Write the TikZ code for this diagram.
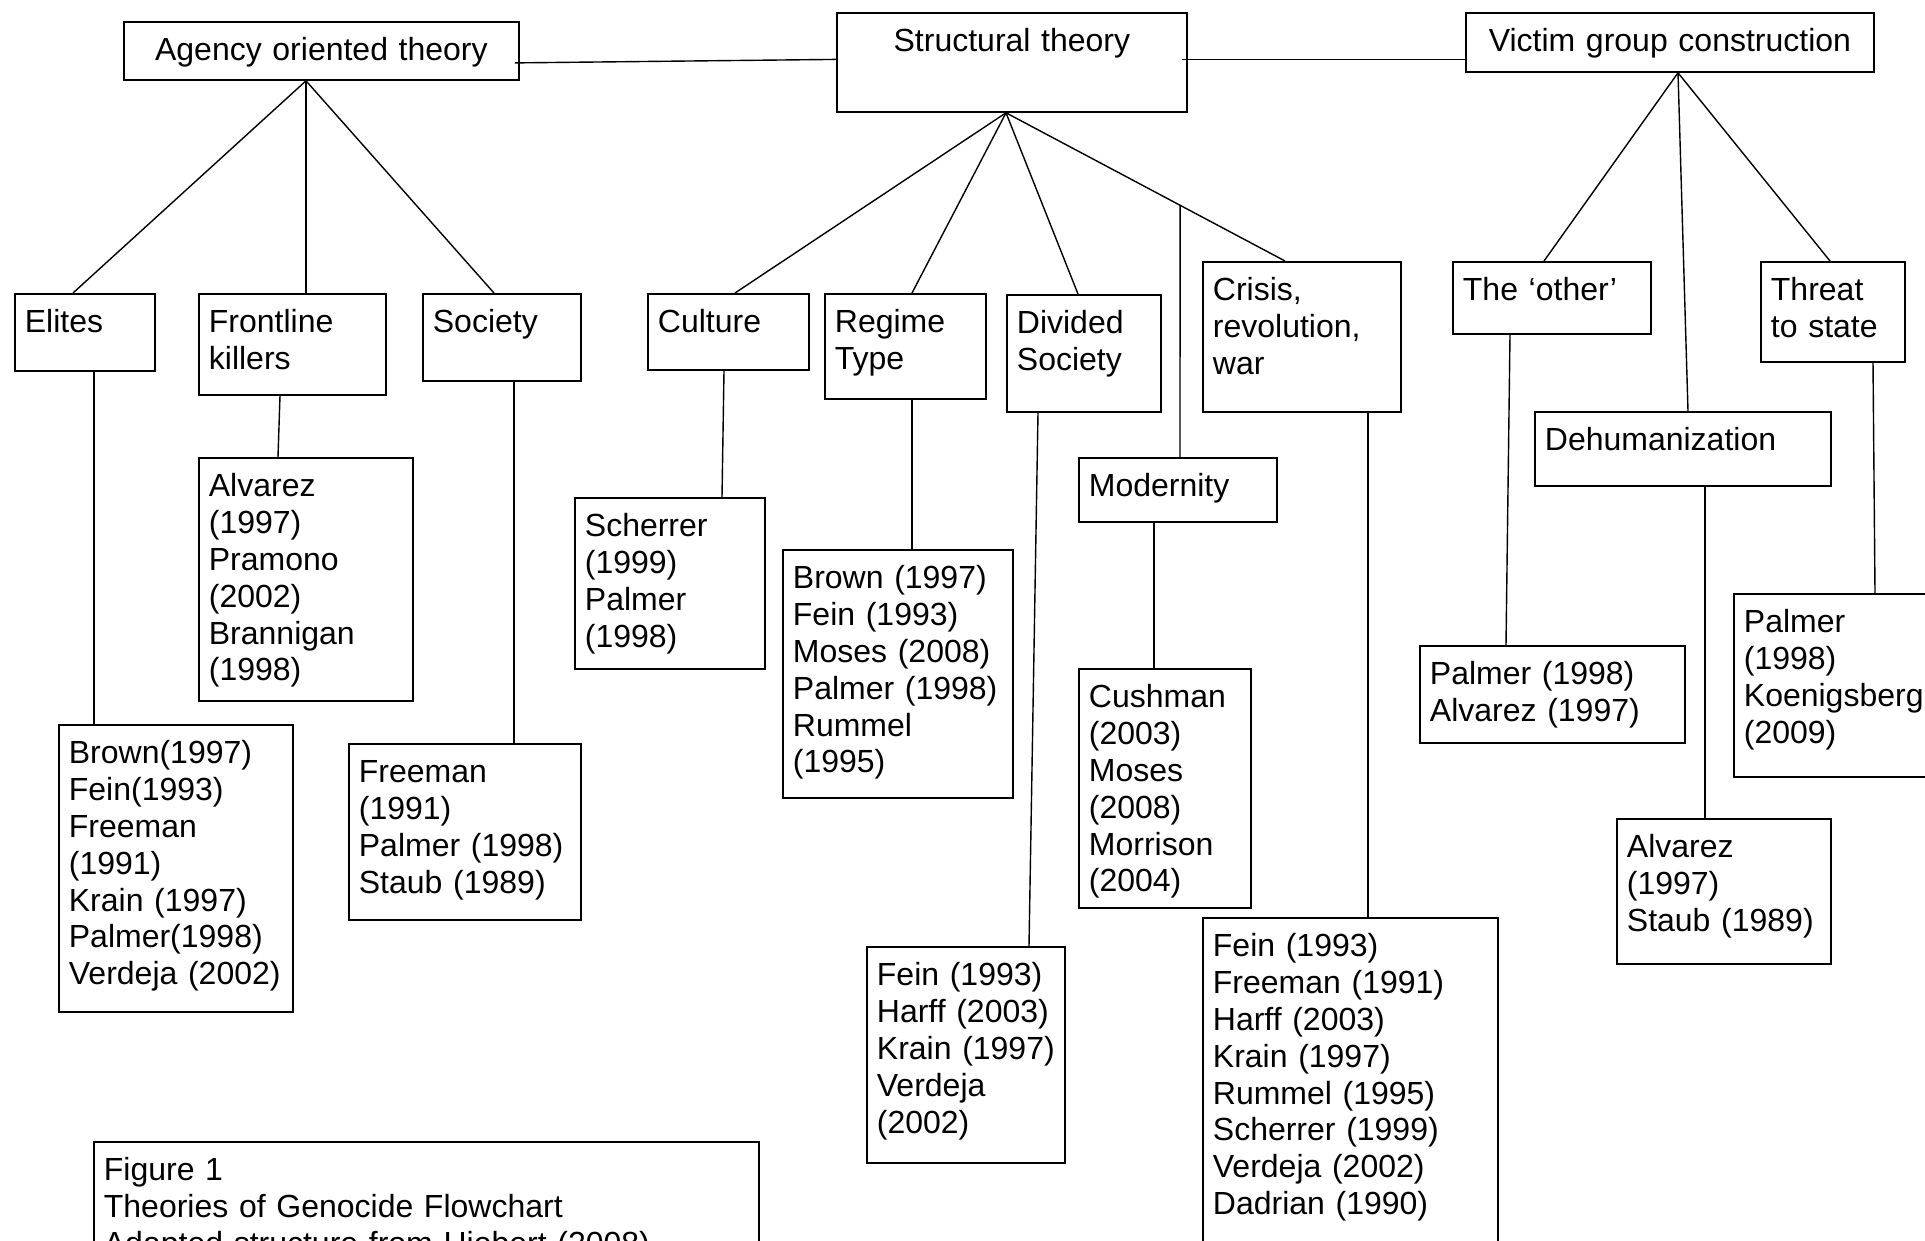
\documentclass[tikz,border=0pt]{standalone}
\usepackage{fontspec}
\setmainfont{Liberation Sans}
\newcommand\fs{\fontsize{32pt}{36.8pt}\selectfont}
\tikzset{
  box/.style={draw, line width=1.8pt, inner xsep=10pt, inner ysep=0pt, text height=39pt,
              align=left, anchor=north west, font=\fs},
  cbox/.style={box, align=center},
  conn/.style={line width=1.4pt},
}
\begin{document}
\begin{tikzpicture}[x=1pt,y=-1pt]
\fill[white] (0,0) rectangle (1925,1240);
\useasboundingbox (0,0) rectangle (1925,1240);

% top level
\node[cbox, text width=375pt, text depth=19pt] (agency) at (123,21) {Agency oriented theory};
\node[cbox, text width=330pt, text depth=60pt] (structural) at (836,12) {Structural theory};
\node[cbox, text width=388pt, text depth=20pt] (victim) at (1465,12) {Victim group construction};

% categories
\node[box, text width=120pt, text depth=38pt] (elites) at (14,293) {Elites};
\node[box, text width=167pt, text depth=62pt] (frontline) at (198,293) {Frontline\\killers};
\node[box, text width=138pt, text depth=48pt] (society) at (422,293) {Society};
\node[box, text width=141pt, text depth=37pt] (culture) at (647,293) {Culture};
\node[box, text width=141pt, text depth=66pt] (regime) at (824,293) {Regime\\Type};
\node[box, text width=134pt, text depth=78pt] (divided) at (1006,294) {Divided\\Society};
\node[box, text width=178pt, text depth=111pt] (crisis) at (1202,261) {Crisis,\\revolution,\\war};
\node[box, text width=178pt, text depth=25pt] (modernity) at (1078,457) {Modernity};
\node[box, text width=178pt, text depth=33pt] (other) at (1452,261) {The ‘other’};
\node[box, text width=276pt, text depth=35pt] (dehum) at (1534,411) {Dehumanization};
\node[box, text width=124pt, text depth=61pt] (threat) at (1760,261) {Threat\\to~state};

% reference lists
\node[box, text width=214pt, text depth=248pt] (elitesref) at (58,724)
  {Brown(1997)\\Fein(1993)\\Freeman\\(1991)\\Krain~(1997)\\Palmer(1998)\\Verdeja~(2002)};
\node[box, text width=194pt, text depth=204pt] (frontref) at (198,457)
  {Alvarez\\(1997)\\Pramono\\(2002)\\Brannigan\\(1998)};
\node[box, text width=212pt, text depth=137pt] (societyref) at (348,743)
  {Freeman\\(1991)\\Palmer~(1998)\\Staub~(1989)};
\node[box, text width=170pt, text depth=132pt] (cultureref) at (574,497)
  {Scherrer\\(1999)\\Palmer\\(1998)};
\node[box, text width=210pt, text depth=209pt] (regimeref) at (782,549)
  {Brown~(1997)\\Fein~(1993)\\Moses~(2008)\\Palmer~(1998)\\Rummel\\(1995)};
\node[box, text width=178pt, text depth=177pt] (dividedref) at (866,946)
  {Fein~(1993)\\Harff~(2003)\\Krain~(1997)\\Verdeja\\(2002)};
\node[box, text width=152pt, text depth=200pt] (modref) at (1078,668)
  {Cushman\\(2003)\\Moses\\(2008)\\Morrison\\(2004)};
\node[box, text width=275pt, text depth=321pt] (crisisref) at (1202,917)
  {Fein~(1993)\\Freeman~(1991)\\Harff~(2003)\\Krain~(1997)\\Rummel~(1995)\\Scherrer~(1999)\\Verdeja~(2002)\\Dadrian~(1990)};
\node[box, text width=245pt, text depth=58pt] (otherref) at (1419,645)
  {Palmer~(1998)\\Alvarez~(1997)};
\node[box, text width=194pt, text depth=106pt] (dehumref) at (1616,818)
  {Alvarez\\(1997)\\Staub~(1989)};
\node[box, text width=210pt, text depth=144pt] (threatref) at (1733,593)
  {Palmer\\(1998)\\Koenigsberg\\(2009)};

% caption
\node[box, text width=645pt, text depth=161pt] (caption) at (93,1141)
  {Figure~1\\Theories~of~Genocide~Flowchart\\Adapted~structure~from~Hiebert~(2008)};

% top connectors
\draw[conn] ([xshift=-5pt,yshift=-12pt]agency.east) -- ([yshift=3pt]structural.west);
\draw[conn] ([xshift=-6pt,yshift=3pt]structural.east) -- ([yshift=-17pt]victim.west);

% apexes
\coordinate (aapex) at ([xshift=183pt]agency.south west);
\coordinate (sapex) at ([xshift=170pt]structural.south west);
\coordinate (vapex) at ([xshift=213pt]victim.south west);

% agency fan
\draw[conn] (aapex) -- ([xshift=59pt]elites.north west);
\draw[conn] (aapex) -- ([xshift=108pt]frontline.north west);
\draw[conn] (aapex) -- ([xshift=72pt]society.north west);

% structural fan
\coordinate (crtop) at ([xshift=83pt]crisis.north west);
\draw[conn] (sapex) -- ([xshift=88pt]culture.north west);
\draw[conn] (sapex) -- ([xshift=88pt]regime.north west);
\draw[conn] (sapex) -- ([xshift=72pt]divided.north west);
\draw[conn] (sapex) -- (crtop);
\coordinate (modtop) at ([xshift=102pt]modernity.north west);
\coordinate (modup) at ([xshift=102pt,yshift=400pt]modernity.north west);
\draw[conn] (intersection of sapex--crtop and modtop--modup) -- (modtop);

% victim fan
\draw[conn] (vapex) -- ([xshift=92pt]other.north west);
\draw[conn] (vapex) -- ([xshift=154pt]dehum.north west);
\draw[conn] (vapex) -- ([xshift=70pt]threat.north west);

% category to list
\draw[conn] ([xshift=80pt]elites.south west) -- ([xshift=36pt]elitesref.north west);
\draw[conn] ([xshift=82pt]frontline.south west) -- ([xshift=80pt]frontref.north west);
\draw[conn] ([xshift=92pt]society.south west) -- ([xshift=166pt]societyref.north west);
\draw[conn] ([xshift=77pt]culture.south west) -- ([xshift=148pt]cultureref.north west);
\draw[conn] ([xshift=88pt]regime.south west) -- ([xshift=130pt]regimeref.north west);
\draw[conn] ([xshift=32pt]divided.south west) -- ([xshift=163pt]dividedref.north west);
\draw[conn] ([xshift=76pt]modernity.south west) -- ([xshift=76pt]modref.north west);
\draw[conn] ([xshift=166pt]crisis.south west) -- ([xshift=166pt]crisisref.north west);
\draw[conn] ([xshift=58pt]other.south west) -- ([xshift=87pt]otherref.north west);
\draw[conn] ([xshift=171pt]dehum.south west) -- ([xshift=89pt]dehumref.north west);
\draw[conn] ([xshift=113pt]threat.south west) -- ([xshift=142pt]threatref.north west);
\end{tikzpicture}
\end{document}
